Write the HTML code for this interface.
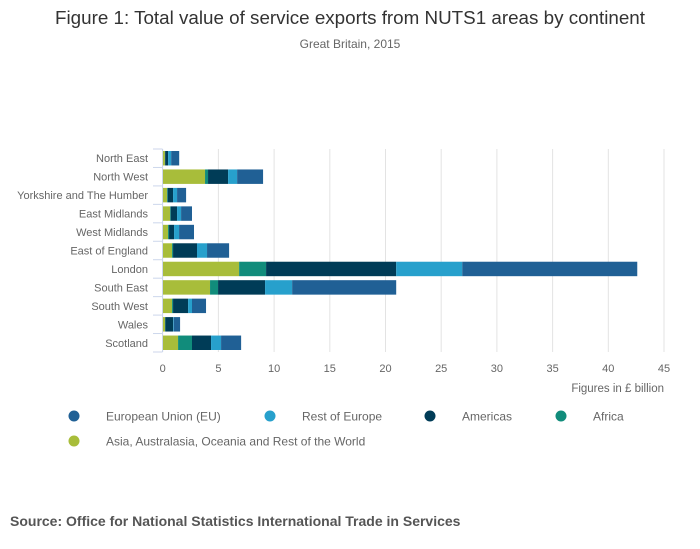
<!DOCTYPE html>
<html><head><meta charset="utf-8"><style>
html,body{margin:0;padding:0;background:#fff;}
svg{display:block;font-family:"Liberation Sans",sans-serif;}
</style></head><body>
<svg id="chart" width="700" height="549" viewBox="0 0 700 549">
<text x="350" y="24" text-anchor="middle" font-size="18" fill="#333" textLength="590" lengthAdjust="spacingAndGlyphs">Figure 1: Total value of service exports from NUTS1 areas by continent</text>
<text x="350" y="48" text-anchor="middle" font-size="12" fill="#666">Great Britain, 2015</text>
<g id="grid"></g><g id="bars"></g><g id="axes"></g><g id="legend"></g>
<text x="664" y="392" text-anchor="end" font-size="11.5" fill="#666">Figures in £ billion</text>
<text x="10" y="526" font-size="14" font-weight="bold" fill="#555">Source: Office for National Statistics International Trade in Services</text>
</svg>
<script>
const categories=["North East","North West","Yorkshire and The Humber","East Midlands","West Midlands","East of England","London","South East","South West","Wales","Scotland"];
const asia=[0.2,3.8,0.39,0.66,0.48,0.84,6.86,4.25,0.84,0.21,1.38];
const africa=[0.02,0.27,0.06,0.06,0.09,0.09,2.42,0.72,0.09,0.03,1.25];
const americas=[0.27,1.8,0.48,0.57,0.45,2.15,11.68,4.22,1.35,0.69,1.71];
const restEurope=[0.27,0.81,0.36,0.36,0.45,0.9,5.93,2.43,0.35,0.06,0.9];
const eu=[0.72,2.33,0.81,0.98,1.34,1.98,15.71,9.34,1.26,0.57,1.8];
const xTicks=[0,5,10,15,20,25,30,35,40,45];
const seriesNames=["European Union (EU)","Rest of Europe","Americas","Africa","Asia, Australasia, Oceania and Rest of the World"];
const NS="http://www.w3.org/2000/svg";
const x0=162.7,xScale=(664-162.7)/45;
const X=v=>x0+v*xScale;
const yTop=149,band=(352-149)/categories.length;
const Y=i=>yTop+band*i;
function mk(tag,attrs,parent){const e=document.createElementNS(NS,tag);for(const k in attrs)e.setAttribute(k,attrs[k]);parent.appendChild(e);return e;}
const grid=document.getElementById('grid'),bars=document.getElementById('bars'),axes=document.getElementById('axes'),legend=document.getElementById('legend');
xTicks.forEach(t=>{
  const l=mk('line',{x1:X(t),x2:X(t),y1:yTop,y2:352,stroke:'#e3e3e3','stroke-width':1},grid);
  
  
  const tx=mk('text',{x:X(t),y:372,'text-anchor':'middle','font-size':11,fill:'#666'},axes);
  tx.textContent=t;
  
  
});
const series=[{d:asia,c:'#a8bd3a',n:'asia'},{d:africa,c:'#118c7b',n:'africa'},{d:americas,c:'#003c57',n:'americas'},{d:restEurope,c:'#27a0cc',n:'rest-of-europe'},{d:eu,c:'#206095',n:'eu'}];
categories.forEach((cat,i)=>{
  let cum=0;
  series.forEach(s=>{
    const v=s.d[i];
    const r=mk('rect',{x:X(cum),y:Y(i)+2,width:Math.max(0,X(cum+v)-X(cum)),height:band-4,fill:s.c},bars);
    
    
    cum+=v;
  });
  const lb=mk('text',{x:148,y:Y(i)+band/2+4,'text-anchor':'end','font-size':11,fill:'#666'},axes);
  lb.textContent=cat;
  
  
});
for(let i=0;i<=categories.length;i++){
  const t=mk('line',{x1:153,x2:162.5,y1:Y(i),y2:Y(i),stroke:'#ccd6eb','stroke-width':1},axes);
  
  
}
const ax=mk('line',{x1:162.5,x2:162.5,y1:yTop,y2:352,stroke:'#ccd6eb','stroke-width':1},axes);


const legColors=['#206095','#27a0cc','#003c57','#118c7b','#a8bd3a'];
const legPos=[[74,416],[270,416],[430,416],[561,416],[74,441]];
seriesNames.forEach((n,i)=>{
  const g=mk('g',{},legend);
  
  
  mk('circle',{cx:legPos[i][0],cy:legPos[i][1],r:5.5,fill:legColors[i]},g);
  const t=mk('text',{x:legPos[i][0]+32,y:legPos[i][1]+4.5,'font-size':12,fill:'#666'},g);
  t.textContent=n;
});
</script>
</body></html>
